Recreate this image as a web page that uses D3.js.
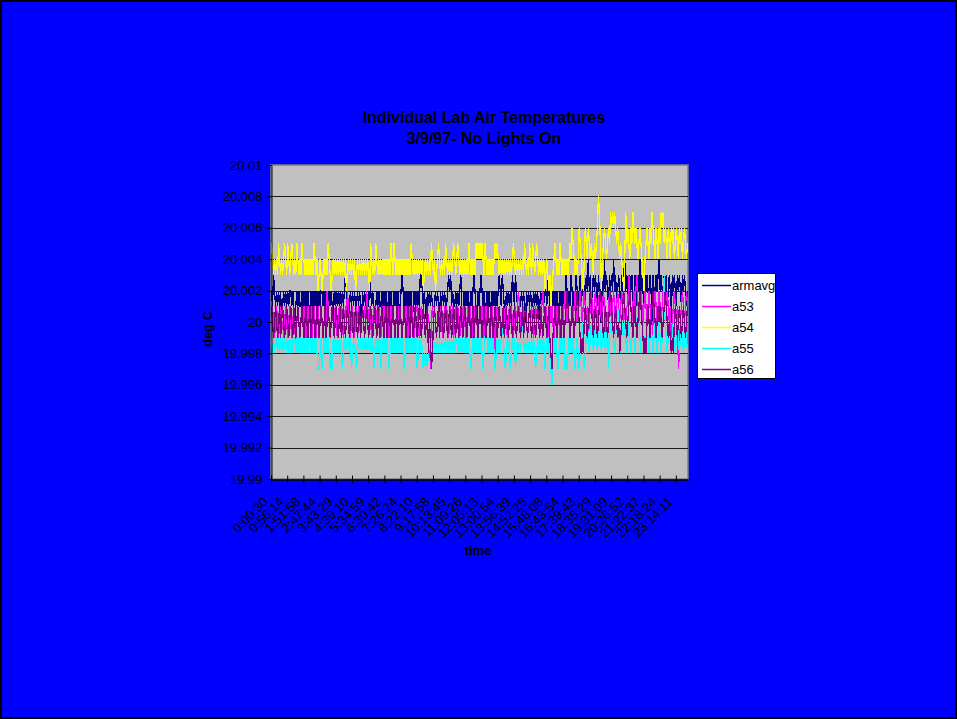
<!DOCTYPE html>
<html>
<head>
<meta charset="utf-8">
<script src="https://cdn.jsdelivr.net/npm/d3@7/dist/d3.min.js"></script>
<style>
  html, body { margin: 0; padding: 0; background: #0000ff; }
  svg { display: block; }
  text { font-family: "Liberation Sans", Arial, sans-serif; fill: #000; }
</style>
</head>
<body>
<svg id="chart" width="957" height="719"></svg>
<script>
// Lab air temperature readings, 3/9/97, stored as thousandths of a degree above 20 C
const BASE = 20, STEP = 0.001;

const seriesNames = ["armavg", "a53", "a54", "a55", "a56"];
const seriesColors = ["#000080", "#ff00ff", "#ffff00", "#00ffff", "#800080"];

// one row per 16 readings
const armavg = [
  2,1,3,2,1,2,1,2,1,2,0,1,2,1,2,1,
  2,1,2,2,1,2,1,0,1,2,1,2,1,1,2,1,
  2,1,2,1,2,1,0,2,1,2,1,2,1,2,1,2,
  1,2,2,1,2,1,2,1,1,2,1,2,1,0,2,1,
  2,1,2,1,2,1,2,1,2,3,2,1,0,1,2,1,
  2,1,2,1,1,2,1,2,1,0,2,1,2,1,2,1,
  1,3,2,1,2,1,0,1,2,1,2,1,1,2,1,2,
  1,2,1,1,2,1,2,1,0,2,1,2,1,2,1,1,
  2,3,2,1,2,1,2,1,2,1,2,0,1,2,1,2,
  1,2,1,3,3,2,1,2,1,0,2,1,2,1,2,1,
  1,1,2,1,2,1,0,2,1,2,1,2,1,1,2,3,
  2,3,1,2,1,1,2,1,2,1,2,3,1,0,2,1,
  2,1,2,1,1,2,1,2,3,2,1,0,2,1,2,3,
  2,1,2,1,1,2,1,2,1,0,2,1,2,1,2,1,
  2,3,2,1,3,2,1,0,2,1,2,1,2,1,3,2,
  1,3,2,1,2,1,1,2,1,2,1,0,2,1,2,1,
  2,1,1,2,1,2,1,2,0,1,2,1,2,1,3,2,
  1,3,2,1,1,1,2,1,2,1,2,0,1,2,1,2,
  1,2,1,3,2,1,2,1,3,2,1,2,1,3,2,1,
  2,3,1,2,3,2,1,3,2,4,2,3,1,2,3,2,
  3,2,1,3,2,0,3,2,1,4,2,3,2,1,3,2,
  3,2,4,2,3,1,2,3,2,1,3,2,3,4,2,3,
  2,1,3,2,3,2,0,3,2,1,3,2,4,2,3,2,
  1,3,2,3,2,1,3,2,0,3,2,1,3,2,3,4,
  2,3,2,1,3,2,3,1,2,3,2,0,3,2,3,2,
  1,3,2,3,2,1,3,2,3,2,1,2
];

const a53 = [
  0,1,0,-1,0,1,0,-1,0,1,0,0,-1,0,1,0,
  -1,0,1,0,-1,0,1,0,-2,0,1,0,-1,0,1,0,
  1,0,-1,0,1,0,0,1,-1,0,1,0,-1,0,1,0,
  0,1,0,-1,0,1,0,2,1,0,-1,0,1,0,0,1,
  0,-1,0,1,0,1,0,-1,0,1,0,2,1,0,-1,0,
  1,0,-1,0,1,0,1,0,-1,0,1,0,1,0,2,1,
  0,1,0,-1,0,1,0,1,-1,0,1,0,-1,0,1,0,
  1,0,1,0,-1,0,1,0,1,0,-1,0,1,0,1,0,
  0,-1,0,1,0,1,0,-1,0,1,0,1,0,-1,0,1,
  1,0,-1,0,1,0,1,0,-1,0,1,0,0,-3,0,1,
  0,1,0,-1,0,1,0,1,0,-1,0,1,0,1,0,-1,
  0,1,0,1,-1,0,1,0,1,0,-1,0,1,0,1,0,
  -1,0,1,0,1,0,-1,0,1,0,1,0,-1,0,1,0,
  1,0,-1,0,1,0,1,0,-1,0,1,0,0,-3,0,1,
  0,1,0,-1,0,1,0,1,0,-1,0,1,0,1,0,-1,
  0,1,0,1,2,1,0,-1,0,1,0,1,0,-1,0,1,
  0,1,0,-1,0,1,0,1,0,-1,0,1,2,1,0,1,
  0,-1,0,1,0,1,0,-1,0,1,0,1,0,-1,0,1,
  0,1,2,1,0,1,0,-1,0,1,0,1,2,1,0,1,
  1,2,1,0,1,2,1,0,1,-1,0,1,2,1,0,1,
  2,1,0,1,2,1,0,1,2,1,0,-1,0,1,2,1,
  0,1,2,1,0,1,2,1,0,1,2,1,0,1,0,1,
  1,3,2,1,0,1,2,1,2,3,1,0,1,2,1,0,
  1,2,1,0,1,2,1,0,-1,0,1,2,1,0,1,2,
  1,0,1,2,1,0,1,2,1,0,1,-1,0,1,2,1,
  0,1,-3,-2,0,1,2,1,0,1,2,1
];

const a54 = [
  5,4,3,4,3,4,3,5,4,3,4,3,4,5,4,3,
  5,4,3,4,5,4,3,4,3,5,4,3,4,3,5,4,
  4,3,4,3,4,3,4,3,4,3,5,4,3,4,2,3,
  4,3,2,3,4,3,4,3,5,4,3,2,3,4,3,4,
  3,4,3,4,3,4,3,4,3,4,2,3,4,3,4,3,
  4,3,4,2,3,4,3,4,3,4,3,4,3,4,3,4,
  3,2,5,4,3,4,3,5,4,3,4,3,4,3,4,3,
  4,3,4,3,4,3,5,4,3,5,4,3,4,3,4,3,
  4,3,4,3,4,3,4,3,4,3,5,4,3,4,3,4,
  3,4,3,4,3,4,2,3,4,3,4,3,4,3,5,4,
  3,4,2,3,4,5,4,3,4,3,4,3,5,4,3,4,
  3,4,3,4,5,4,3,4,5,4,3,4,3,4,3,4,
  3,4,3,5,4,3,4,3,4,3,5,4,5,4,5,4,
  5,4,3,5,4,3,4,3,4,3,4,3,4,5,4,5,
  4,3,4,3,4,3,4,3,4,3,4,3,4,3,4,5,
  4,3,4,3,4,3,4,3,4,3,5,4,3,4,3,5,
  4,3,5,4,3,4,5,4,3,4,3,4,3,4,2,3,
  4,3,2,3,1,2,3,4,5,4,3,4,3,5,4,3,
  4,3,4,3,4,3,4,5,4,6,5,4,3,4,3,4,
  6,5,4,3,2,4,6,5,4,6,5,4,5,4,3,5,
  4,5,6,8,7,5,2,4,5,6,5,4,5,6,5,7,
  6,7,6,7,6,5,6,5,4,5,4,3,2,4,7,5,
  6,5,4,6,5,7,6,5,6,5,4,5,6,5,4,3,
  2,4,5,6,5,4,6,5,7,6,5,4,6,5,4,6,
  5,7,6,7,5,6,5,4,6,5,4,6,5,6,4,5,
  6,5,4,6,5,6,4,5,6,5,4,5
];

const a55 = [
  -1,-2,-1,-2,-1,-1,-2,-1,-2,-1,-2,-1,-2,-1,-1,-2,
  -1,-2,-1,-2,-1,-2,-1,-1,-2,-1,-2,-1,-2,-1,-2,-1,
  -2,-1,-2,-1,-2,-1,-1,-2,-1,-2,-1,-2,-1,-2,-3,-3,
  -2,-1,-3,-2,-1,-2,-1,-2,-1,-2,-3,-2,-3,-1,-2,-1,
  -2,-1,-2,-1,-2,-1,-3,-2,-1,-2,-1,-2,-1,-2,-1,-3,
  -2,-1,-2,-1,-3,-2,-1,-2,-1,-2,-1,-2,-1,-2,-1,-2,
  -1,-2,-1,-2,-1,-3,-2,-1,-2,-1,-2,-1,-3,-2,-1,-2,
  -1,-2,-1,-2,-3,-2,-1,-2,-1,-2,-1,-2,-1,-2,-1,-2,
  -1,-2,-1,-3,-2,-1,-2,-1,-2,-1,-2,-1,-2,-1,-2,-1,
  -3,-2,-1,-2,-1,-2,-3,-2,-3,-2,-3,-2,-1,-2,-1,-2,
  -1,-2,-1,-2,-1,-2,-1,-2,-1,-2,-1,-2,-1,-2,-1,-2,
  -1,-2,-1,-2,-1,-2,-1,-1,-2,-1,-2,-1,-2,-1,-2,-1,
  -2,-1,-2,-1,-2,-3,-2,-1,-2,-1,-2,-1,-2,-1,-2,-1,
  -2,-3,-2,-1,0,-1,-2,-1,-2,-1,-2,-1,-2,-3,-2,-1,
  -2,-1,-2,-1,0,-1,-2,-3,-2,-1,-2,-1,-3,-2,-1,-2,
  -1,-3,-2,-1,-2,-1,-2,-1,0,-1,-2,-1,-2,-1,-2,-1,
  -2,-1,-2,-1,-2,-3,-2,-1,-2,-1,-2,-1,-2,-1,-3,-2,
  -1,-2,-1,-2,-3,-4,-2,-1,-2,-1,-2,-3,-2,-1,-2,-1,
  -2,-1,-3,-2,-3,-2,-1,-2,-1,-2,-1,-2,-3,-2,-1,-2,
  -3,-2,-1,0,-1,-3,-2,-1,0,-1,-2,-1,0,-1,-2,-1,
  0,-1,-2,-1,0,-1,-2,-1,0,-1,-2,-1,0,-3,-1,0,
  -1,0,-1,-2,-1,0,1,0,-1,-2,-1,0,-1,0,-1,-2,
  -1,0,-1,-2,-1,0,-1,-2,-1,0,1,0,-1,-2,-1,0,
  -1,-2,-1,0,-1,-2,-1,0,-1,-2,-1,0,-1,-2,-1,0,
  -1,-2,-1,0,3,0,-1,-2,-1,0,-1,-2,-1,0,-1,-2,
  -1,0,-1,-2,-1,0,-1,-2,-1,0,-1,-2
];

const a56 = [
  1,0,-1,0,1,0,-1,0,1,-1,0,1,0,-1,0,1,
  0,-1,0,1,0,-1,1,0,-1,0,1,0,-1,0,1,0,
  -1,0,1,0,-1,0,1,-1,0,1,0,-1,0,1,0,-1,
  0,1,0,-1,0,1,-1,0,1,0,-1,0,1,0,-1,0,
  1,0,-1,0,1,-1,0,1,0,-1,0,1,0,-1,0,1,
  0,-1,0,1,0,-1,0,1,-1,0,1,0,-1,0,1,0,
  -1,0,1,0,-1,0,1,0,-1,1,0,-1,0,1,0,-1,
  0,1,-1,0,1,0,-1,0,1,0,-1,0,1,-1,0,1,
  0,-1,0,1,0,-1,0,1,0,-1,1,0,-1,0,1,0,
  -1,0,1,0,-1,0,1,0,-1,0,1,-2,0,-1,-3,-2,
  0,1,0,-1,0,1,-1,0,1,0,-1,0,1,0,-1,0,
  1,0,-1,0,1,0,-1,1,0,-1,0,1,0,-1,0,1,
  0,-1,0,1,0,-1,0,1,-1,0,1,0,-1,0,1,0,
  -1,0,1,0,-1,0,1,0,-1,1,0,-1,0,1,0,-1,
  0,1,0,-1,0,1,-1,0,1,0,-1,0,1,0,-1,0,
  1,0,-1,0,1,0,-1,0,1,-1,0,1,0,-1,0,1,
  0,-1,0,1,0,-1,0,1,0,-1,1,0,-1,0,1,0,
  -1,0,1,-1,-2,-3,-1,0,1,0,-1,0,1,0,-1,1,
  0,-1,0,1,2,1,0,-1,0,1,0,-1,0,1,2,1,
  0,-1,-2,-1,-2,0,1,0,-1,0,1,2,1,0,-1,0,
  1,0,-1,0,1,2,1,0,-1,0,1,0,-1,0,1,2,
  1,0,-1,0,1,0,-1,0,-2,-1,0,1,2,1,0,-1,
  0,1,2,1,0,-1,0,1,0,-1,0,1,2,1,0,-1,
  -2,-1,-2,0,1,0,-1,0,1,2,1,0,-1,0,1,0,
  1,0,-1,0,1,2,1,0,-1,0,-1,-2,-1,-2,0,1,
  0,-1,0,1,0,-1,0,1,0,-1,0,1
];

// category labels shown every 16 readings
const timeLabels = [
  "0:00:30","0:56:14","1:51:58","2:47:44","3:43:29","4:39:10","5:34:59",
  "6:30:42","7:26:24","8:22:10","9:17:58","10:13:45","11:09:26","12:05:13",
  "13:00:54","13:56:39","14:52:25","15:48:08","16:43:54","17:39:43",
  "18:35:29","19:31:09","20:26:52","21:22:37","22:18:24","23:14:11"
];
const labelEvery = 16;

const yTicks = [19.99, 19.992, 19.994, 19.996, 19.998, 20, 20.002, 20.004, 20.006, 20.008, 20.01];

const seriesData = [armavg, a53, a54, a55, a56].map(arr => arr.map(v => BASE + v * STEP));
const N = armavg.length;

const FONT = "'Liberation Sans', Arial, sans-serif";
const svg = d3.select("#chart");
const W = 957, H = 719;
const plot = { left: 271, right: 688, top: 165, bottom: 479 };

// chart background and frame
svg.append("rect").attr("x", 1).attr("y", 1).attr("width", W - 2).attr("height", H - 2)
  .attr("fill", "#0000ff").attr("stroke", "#000").attr("stroke-width", 2);

const x = d3.scaleLinear().domain([0, N]).range([plot.left, plot.right]);
const y = d3.scaleLinear().domain([19.99, 20.01]).range([plot.bottom, plot.top]);

// plot area
svg.append("rect")
  .attr("x", plot.left).attr("y", plot.top)
  .attr("width", plot.right - plot.left).attr("height", plot.bottom - plot.top)
  .attr("fill", "#c0c0c0").attr("stroke", "#808080").attr("stroke-width", 1.5);

// horizontal gridlines
svg.append("g").selectAll("line")
  .data(yTicks.filter(t => t > 19.99 && t < 20.01))
  .join("line")
  .attr("x1", plot.left).attr("x2", plot.right)
  .attr("y1", d => Math.round(y(d)) + 0.5).attr("y2", d => Math.round(y(d)) + 0.5)
  .attr("stroke", "#1a1a1a").attr("stroke-width", 1);

// series lines, drawn in legend order
const line = d3.line()
  .x((d, i) => x(i + 0.5))
  .y(d => y(d));

svg.append("g").selectAll("path")
  .data(seriesData)
  .join("path")
  .attr("d", d => line(d))
  .attr("fill", "none")
  .attr("stroke", (d, i) => seriesColors[i])
  .attr("stroke-width", 1.3)
  .attr("shape-rendering", "crispEdges");

// y axis
const yAxis = d3.axisLeft(y)
  .tickValues(yTicks)
  .tickFormat(d3.format(".3~f"))
  .tickSize(5)
  .tickPadding(4);
const gy = svg.append("g")
  .attr("transform", `translate(${plot.left + 0.5},0)`)
  .call(yAxis);
gy.select(".domain").attr("stroke", "#000");
gy.selectAll(".tick line").attr("stroke", "#000");
gy.selectAll("text").attr("font-size", 13).attr("font-family", FONT).attr("fill", "#000");

// x axis: ticks every 16 readings, crossing the axis
const xTickVals = d3.range(0, N, labelEvery);
const xAxis = d3.axisBottom(x)
  .tickValues(xTickVals)
  .tickFormat((d, i) => timeLabels[i])
  .tickSizeInner(4)
  .tickSizeOuter(0)
  .tickPadding(0);
const gx = svg.append("g")
  .attr("transform", `translate(0,${plot.bottom + 0.5})`)
  .call(xAxis);
gx.select(".domain").attr("stroke", "#000").attr("stroke-width", 1.5);
gx.selectAll(".tick line").attr("stroke", "#000").attr("y1", -4).attr("y2", 4);
gx.selectAll(".tick text")
  .attr("font-size", 13)
  .attr("font-family", FONT)
  .attr("fill", "#000")
  .attr("text-anchor", "end")
  .attr("y", 0)
  .attr("dy", "0.35em")
  .attr("transform", "translate(-6,20) rotate(-45)");

// titles
const title = svg.append("text")
  .attr("x", 484).attr("text-anchor", "middle")
  .attr("font-family", FONT)
  .attr("font-size", 16).attr("font-weight", "bold");
title.append("tspan").attr("x", 484).attr("y", 123).text("Individual Lab Air Temperatures");
title.append("tspan").attr("x", 484).attr("y", 144).text("3/9/97- No Lights On");

svg.append("text")
  .attr("transform", "translate(212,329) rotate(-90)")
  .attr("text-anchor", "middle")
  .attr("font-family", FONT)
  .attr("font-size", 13).attr("font-weight", "bold")
  .text("deg C");

svg.append("text")
  .attr("x", 478).attr("y", 555)
  .attr("text-anchor", "middle")
  .attr("font-family", FONT)
  .attr("font-size", 13).attr("font-weight", "bold")
  .text("time");

// legend
const legend = svg.append("g");
legend.append("rect")
  .attr("x", 697.5).attr("y", 273.5).attr("width", 78).attr("height", 105)
  .attr("fill", "#fff").attr("stroke", "#000").attr("stroke-width", 1);
const items = legend.selectAll("g.item")
  .data(seriesNames)
  .join("g")
  .attr("class", "item")
  .attr("transform", (d, i) => `translate(0,${285 + i * 21})`);
items.append("line")
  .attr("x1", 702).attr("x2", 731).attr("y1", 0.5).attr("y2", 0.5)
  .attr("stroke", (d, i) => seriesColors[i]).attr("stroke-width", 1.5);
items.append("text")
  .attr("x", 732).attr("y", 0).attr("dy", "0.35em")
  .attr("font-family", FONT)
  .attr("font-size", 13)
  .text(d => d);
</script>
</body>
</html>
